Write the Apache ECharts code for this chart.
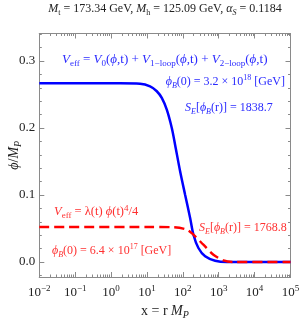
<!DOCTYPE html>
<html><head><meta charset="utf-8">
<script src="https://cdn.jsdelivr.net/npm/echarts@6/dist/echarts.min.js"></script>
<style>html,body{margin:0;padding:0;background:#fff}#c{width:300px;height:318px}</style>
</head><body><div id="c"></div>
<script>
// ---- data ----
const blueX = [0.01, 1, 1.78, 6.43, 12.2, 18.8, 25.9, 35.7, 49.2, 60.8, 83.9, 115.6, 159.6, 197.2, 271.6, 417.8, 794, 1683, 100000];
const blueY = [0.2667, 0.2667, 0.2667, 0.2661, 0.2622, 0.2548, 0.2448, 0.2273, 0.2000, 0.1751, 0.1354, 0.1004, 0.0657, 0.0407, 0.0209, 0.0085, 0.0019, 0, 0];
const redX = [0.01, 10, 54.6, 128.8, 197.2, 374.1, 711.2, 1352, 2570, 100000];
const redY = [0.0522, 0.0522, 0.0518, 0.0482, 0.0407, 0.0258, 0.0109, 0.0025, 0, 0];
const xTickValues = [0.01, 0.1, 1, 10, 100, 1000, 10000, 100000];
const xTickLabels = ['\u22122', '\u22121', '0', '1', '2', '3', '4', '5'];
const yTickValues = [0, 0.1, 0.2, 0.3];
const yTickLabels = ['0.0', '0.1', '0.2', '0.3'];

const xMinor = [];
for (let d = -2; d <= 4; d++) for (let k = 2; k <= 9; k++) xMinor.push(+(k * Math.pow(10, d)).toPrecision(3));
const yMinor = [];
for (let i = -1; i <= 17; i++) { const v = +(i * 0.02).toFixed(2); if (yTickValues.indexOf(v) < 0) yMinor.push(v); }

const SERIF = 'Liberation Serif';
const GRAY = '#8a8a8a';
const XMIN = 0.01, XMAX = 100000, YMIN = -0.0224, YMAX = 0.341;

function richSet(fs, r) {
  const ss = Math.round(fs * (r || 0.68));
  return {
    n: {fontFamily: SERIF, fontSize: fs, lineHeight: fs + 4},
    i: {fontFamily: SERIF, fontSize: fs, fontStyle: 'italic', lineHeight: fs + 4},
    sb: {fontFamily: SERIF, fontSize: ss, lineHeight: ss, verticalAlign: 'bottom'},
    si: {fontFamily: SERIF, fontSize: ss, fontStyle: 'italic', lineHeight: ss, verticalAlign: 'bottom'},
    sp: {fontFamily: SERIF, fontSize: ss, lineHeight: ss, verticalAlign: 'top'}
  };
}

function xAxisDef(pos, vals, len, labels) {
  return {
    type: 'log', logBase: 10, min: XMIN, max: XMAX, position: pos, gridIndex: 0,
    axisLine: {show: true, onZero: false, lineStyle: {color: GRAY, width: 1}},
    axisTick: {show: true, inside: true, length: len, customValues: vals, lineStyle: {color: GRAY, width: 1}},
    axisLabel: labels ? {
      show: true, customValues: xTickValues, margin: 7, color: '#222',
      formatter: function (v) {
        let idx = 0, best = 1e9;
        xTickValues.forEach(function (t, j) { const d = Math.abs(Math.log10(t) - Math.log10(v)); if (d < best) { best = d; idx = j; } });
        return '{n|10}{sp|' + xTickLabels[idx] + '}';
      },
      rich: richSet(13)
    } : {show: false},
    splitLine: {show: false}, minorTick: {show: false}
  };
}
function yAxisDef(pos, vals, len, labels) {
  return {
    type: 'value', min: YMIN, max: YMAX, position: pos, gridIndex: 0,
    axisLine: {show: true, onZero: false, lineStyle: {color: GRAY, width: 1}},
    axisTick: {show: true, inside: true, length: len, customValues: vals, lineStyle: {color: GRAY, width: 1}},
    axisLabel: labels ? {
      show: true, customValues: yTickValues, margin: 4, color: '#222', fontFamily: SERIF, fontSize: 13,
      formatter: function (v) { const j = yTickValues.findIndex(function (t) { return Math.abs(t - v) < 1e-6; }); return j >= 0 ? yTickLabels[j] : ''; }
    } : {show: false},
    splitLine: {show: false}, minorTick: {show: false}
  };
}

const xAxes = [xAxisDef('bottom', xTickValues, 5, true), xAxisDef('bottom', xMinor, 2.5, false), xAxisDef('top', xTickValues, 5, false), xAxisDef('top', xMinor, 2.5, false)];
xAxes[0].name = '{n|x = r }{i|M}{si|P}';
xAxes[0].nameLocation = 'middle';
xAxes[0].nameGap = 25;
xAxes[0].nameMoveOverlap = false;
xAxes[0].nameTextStyle = {color: '#222', rich: richSet(14)};
const yAxes = [yAxisDef('left', yTickValues, 5, true), yAxisDef('left', yMinor, 2.5, false), yAxisDef('right', yTickValues, 5, false), yAxisDef('right', yMinor, 2.5, false)];
yAxes[0].name = '{i|\u03d5}{n|/}{i|M}{si|P}';
yAxes[0].nameLocation = 'middle';
yAxes[0].nameRotate = 90;
yAxes[0].nameGap = 16;
yAxes[0].nameMoveOverlap = false;
yAxes[0].nameTextStyle = {color: '#222', rich: richSet(14)};

function txt(x, y, align, text, color, fs, r) {
  return {type: 'text', x: x, y: y, z: 50, style: {text: text, fill: color, align: align, verticalAlign: 'middle', rich: richSet(fs || 12, r)}};
}
const BLUE_T = '#2a2aff', RED_T = '#ff3030';

const chart = echarts.init(document.getElementById('c'), null, {renderer: 'canvas'});
chart.setOption({
  backgroundColor: '#fff',
  animation: false,
  grid: {left: 39.3, right: 9.5, top: 33.5, bottom: 41, containLabel: false, outerBoundsMode: 'none'},
  xAxis: xAxes,
  yAxis: yAxes,
  series: [
    {type: 'line', xAxisIndex: 0, yAxisIndex: 0, data: blueX.map(function (x, i) { return [x, blueY[i]]; }), showSymbol: false, symbol: 'none', smooth: 0.3, lineStyle: {color: '#0000ff', width: 2.5}, z: 3},
    {type: 'line', xAxisIndex: 0, yAxisIndex: 0, data: redX.map(function (x, i) { return [x, redY[i]]; }), showSymbol: false, symbol: 'none', smooth: 0.3, lineStyle: {color: '#ff0000', width: 2.4, type: [10, 5]}, z: 4}
  ],
  graphic: [
    txt(165, 9, 'center', '{i|M}{sb|t}{n| = 173.34 GeV, }{i|M}{sb|h}{n| = 125.09 GeV, }{i|\u03b1}{si|S}{n| = 0.1184}', '#222', 12),
    txt(62, 60, 'left', '{i|V}{sb|eff}{n| = }{i|V}{sb|0}{n|(}{i|\u03d5}{n|,t) + }{i|V}{sb|1\u2212loop}{n|(}{i|\u03d5}{n|,t) + }{i|V}{sb|2\u2212loop}{n|(}{i|\u03d5}{n|,t)}', BLUE_T, 13, 0.72),
    txt(285, 82, 'right', '{i|\u03d5}{si|B}{n|(0) = 3.2 \u00d7 10}{sp|18}{n| [GeV]}', BLUE_T),
    txt(185, 108, 'left', '{i|S}{si|E}{n|[}{i|\u03d5}{si|B}{n|(r)] = 1838.7}', BLUE_T),
    txt(54, 212, 'left', '{i|V}{sb|eff}{n| = \u03bb(t) }{i|\u03d5}{n|(t)}{sp|4}{n|/4}', RED_T, 12.5, 0.72),
    txt(52, 251, 'left', '{i|\u03d5}{si|B}{n|(0) = 6.4 \u00d7 10}{sp|17}{n| [GeV]}', RED_T),
    txt(199, 228, 'left', '{i|S}{si|E}{n|[}{i|\u03d5}{si|B}{n|(r)] = 1768.8}', RED_T)
  ]
});
</script></body></html>
